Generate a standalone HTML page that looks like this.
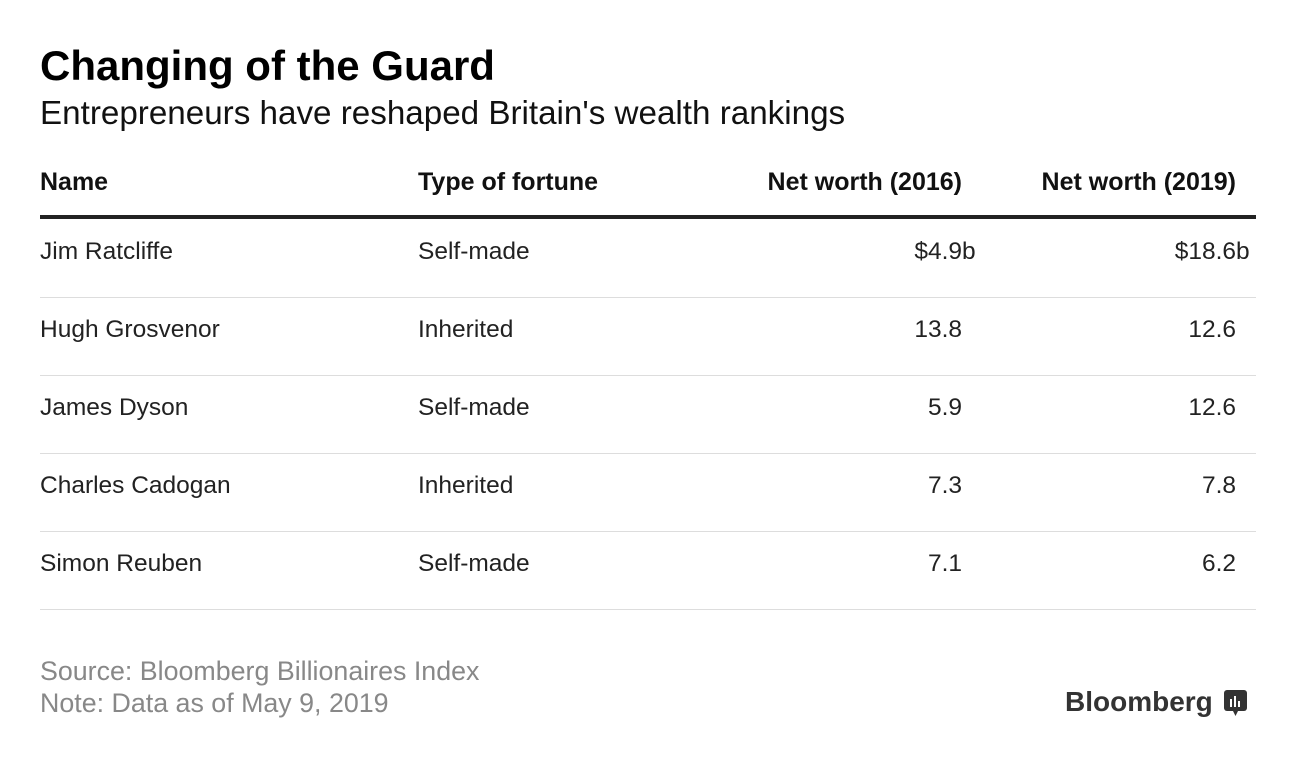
<!DOCTYPE html>
<html><head><meta charset="utf-8"><style>
body{margin:0;width:1296px;height:760px;background:#fff;font-family:"Liberation Sans",sans-serif;color:#222;position:relative;overflow:hidden}
.a{position:absolute;white-space:nowrap}
.t{left:40px;top:42px;font-size:42px;font-weight:bold;color:#000}
.s{left:40px;top:95px;font-size:33.2px;color:#111}
.h{top:168px;font-size:25px;font-weight:bold;color:#111}
.c{font-size:24.5px;color:#222}
.line{position:absolute;left:40px;width:1216px;height:1px;background:#ddd}
.f{left:40px;font-size:26.8px;color:#888}
</style></head><body>
<div class="a t">Changing of the Guard</div>
<div class="a s">Entrepreneurs have reshaped Britain's wealth rankings</div>
<div class="a h" style="left:40px">Name</div>
<div class="a h" style="left:418px">Type of fortune</div>
<div class="a h" style="right:334px">Net worth (2016)</div>
<div class="a h" style="right:60px">Net worth (2019)</div>
<div class="a" style="left:40px;top:215px;width:1216px;height:4px;background:#222"></div>
<div id="rows"></div>
<div class="a f" style="top:656px">Source: Bloomberg Billionaires Index</div>
<div class="a f" style="top:688px">Note: Data as of May 9, 2019</div>
<div class="a" style="left:1065px;top:686px;font-size:28px;font-weight:bold;color:#333">Bloomberg</div>
<svg class="a" style="left:1224px;top:690px" width="23" height="27"><rect x="0" y="0" width="23" height="21" rx="3" fill="#333"/><path d="M9 21 L11.5 26 L14 21Z" fill="#333"/><rect x="6" y="9" width="2" height="8" fill="#fff"/><rect x="10" y="6" width="2" height="11" fill="#fff"/><rect x="14" y="11" width="2" height="6" fill="#fff"/></svg>
<script>
var names=["Jim Ratcliffe","Hugh Grosvenor","James Dyson","Charles Cadogan","Simon Reuben"];
var types=["Self-made","Inherited","Self-made","Inherited","Self-made"];
var worth2016=["$4.9","13.8","5.9","7.3","7.1"];
var worth2019=["$18.6","12.6","12.6","7.8","6.2"];
var rowsEl=document.getElementById('rows');
function cell(html,style,name){var d=document.createElement('div');d.className='a c';d.style.cssText=style;d.innerHTML=html;


rowsEl.appendChild(d);}
for(var i=0;i<names.length;i++){
 var rowTop=238+i*78;
 cell(names[i],'left:40px;top:'+rowTop+'px','name-cell');
 cell(types[i],'left:418px;top:'+rowTop+'px','type-cell');
 cell(worth2016[i]+(i==0?'<span style="position:absolute;left:100%">b</span>':''),'right:334px;top:'+rowTop+'px;text-align:right','worth-2016-cell');
 cell(worth2019[i]+(i==0?'<span style="position:absolute;left:100%">b</span>':''),'right:60px;top:'+rowTop+'px;text-align:right','worth-2019-cell');
 var l=document.createElement('div');l.className='line';l.style.top=(297+i*78)+'px';
 
 
 rowsEl.appendChild(l);
}
</script>
</body></html>
